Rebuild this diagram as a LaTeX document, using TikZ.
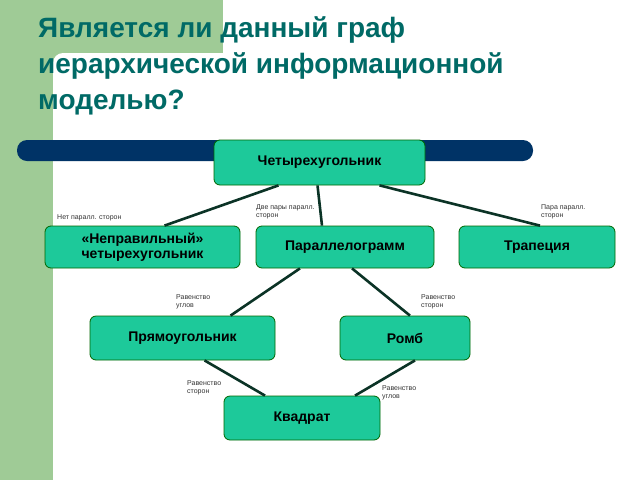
\documentclass[tikz,border=0pt]{standalone}
\usepackage{fontspec}
\setmainfont{Liberation Sans}
\begin{document}
\begin{tikzpicture}[x=1pt,y=-1pt,
  box/.style={draw=green!40!black,fill=boxc,rounded corners=6pt,line width=0.8pt,font=\bfseries\fontsize{14}{15}\selectfont,align=center,inner sep=0pt},
  edge/.style={line width=2.6pt,draw=edgec},
  lbl/.style={font=\fontsize{7}{8}\selectfont,align=left,anchor=north west,inner sep=0pt,text=black!80}]
\definecolor{boxc}{HTML}{1DC99A}
\definecolor{edgec}{HTML}{0B3326}
\definecolor{greenbg}{HTML}{9FCB96}
\definecolor{barc}{HTML}{003366}
\definecolor{titlec}{HTML}{006A66}
\useasboundingbox (0,0) rectangle (640,480);
\fill[white] (0,0) rectangle (640,480);
\fill[greenbg] (0,0) rectangle (223,53);
\fill[greenbg] (0,0) rectangle (53,480);
\fill[greenbg] (53,53) rectangle (63,63);
\fill[white] (63,63) circle (10);
\fill[barc, rounded corners=10pt] (17,140) rectangle (533,161);
\node[anchor=north west,inner sep=0pt,text=titlec,font=\bfseries\fontsize{28}{36}\selectfont,align=left] (title) at (38,16)
 {Является ли данный граф\\иерархической информационной\\моделью?};
\node[box,minimum width=211pt,minimum height=45pt] (q) at (319.5,162.5) {Четырехугольник};
\node[box,minimum width=195pt,minimum height=42pt] (n) at (142.5,247) {«Неправильный»\\четырехугольник};
\node[box,minimum width=178pt,minimum height=42pt] (p) at (345,247) {Параллелограмм};
\node[box,minimum width=156pt,minimum height=42pt] (t) at (537,247) {Трапеция};
\node[box,minimum width=185pt,minimum height=44pt] (r) at (182.5,338) {Прямоугольник};
\node[box,minimum width=130pt,minimum height=44pt] (m) at (405,338) {Ромб};
\node[box,minimum width=156pt,minimum height=44pt] (k) at (302,418) {Квадрат};
\draw[edge] ([xshift=-41pt]q.south) -- ([xshift=22pt]n.north);
\draw[edge] ([xshift=-2pt]q.south) -- ([xshift=-23pt]p.north);
\draw[edge] ([xshift=60pt]q.south) -- ([xshift=3pt]t.north);
\draw[edge] ([xshift=-45pt]p.south) -- ([xshift=48pt]r.north);
\draw[edge] ([xshift=7pt]p.south) -- ([xshift=5pt]m.north);
\draw[edge] ([xshift=22pt]r.south) -- ([xshift=-37pt]k.north);
\draw[edge] ([xshift=10pt]m.south) -- ([xshift=53pt]k.north);
\node[lbl] (l1) at (57,214) {Нет паралл. сторон};
\node[lbl] (l2) at (256,204) {Две пары паралл.\\сторон};
\node[lbl] (l3) at (541,204) {Пара паралл.\\сторон};
\node[lbl] (l4) at (176,294) {Равенство\\углов};
\node[lbl] (l5) at (421,294) {Равенство\\сторон};
\node[lbl] (l6) at (187,380) {Равенство\\сторон};
\node[lbl] (l7) at (382,385) {Равенство\\углов};
\end{tikzpicture}
\end{document}
